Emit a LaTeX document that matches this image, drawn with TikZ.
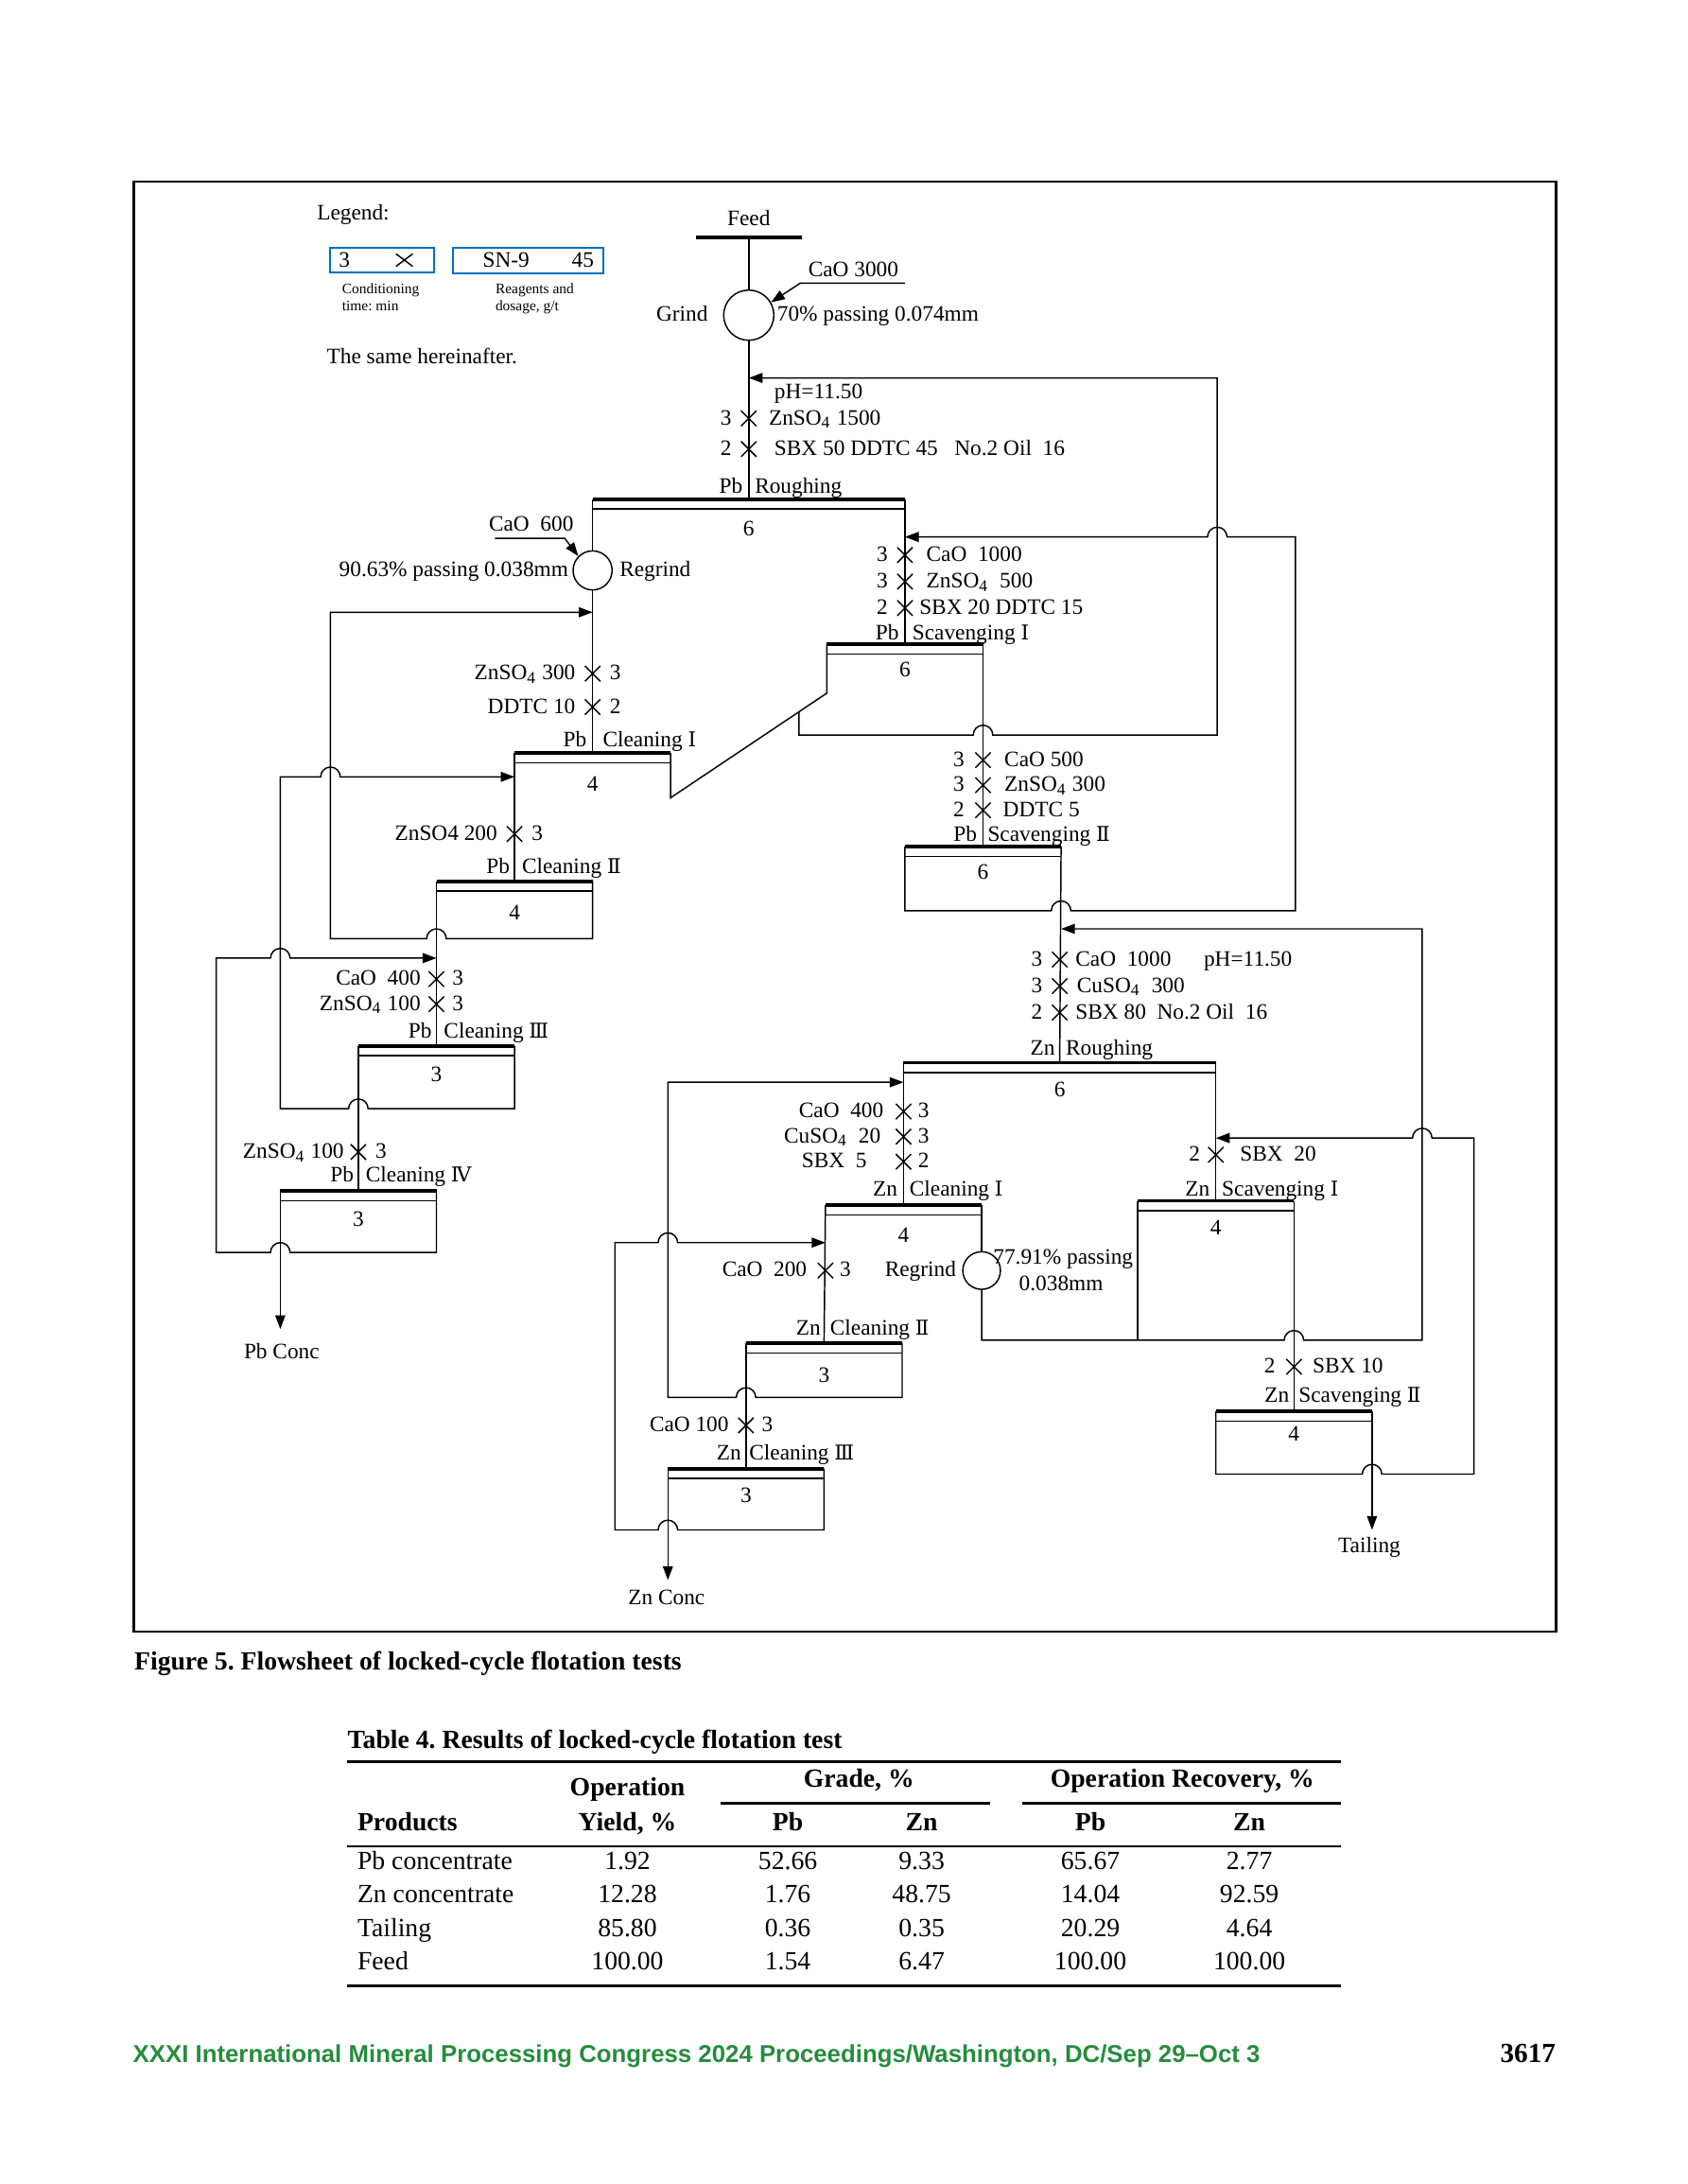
\documentclass[tikz,border=0pt]{standalone}
\usepackage{fontspec}
\setmainfont{Liberation Serif}
\newfontfamily\romf{DejaVu Serif}
\newfontfamily\footf{Liberation Sans}
\usetikzlibrary{arrows.meta,calc}
\definecolor{legblue}{RGB}{0,112,192}
\definecolor{footgreen}{RGB}{38,140,62}
\newdimen\uu \uu=0.5058pt
\frenchspacing
\newcommand\dfont{\fontsize{8}{9.6}\selectfont}
\newcommand\rn[1]{{\romf\fontsize{7.4}{8}\selectfont #1}}
\newcommand\sbs[1]{\textsubscript{#1}}
\newcommand\flcell[6]{%
  \coordinate (#1-l) at (#2,#4);
  \coordinate (#1-r) at (#3,#4);
  \coordinate (#1-c) at ({(#2+#3)/2},#4);
  \draw[barln] (#1-l) -- (#1-r);
  \draw[thinln] (#2,#4+7) -- (#3,#4+7);
  \node[txc] (#1-n) at ({(#2+#3)/2},#4+#6) {#5};
}
\tikzset{
  thinln/.style={line width=0.5pt},
  barln/.style={line width=1.3pt},
  arr/.style={thinln,-{Triangle[length=5pt,width=3.6pt]}},
  txt/.style={font=\dfont, inner sep=0pt},
  txl/.style={txt, anchor=mid west},
  txr/.style={txt, anchor=mid east},
  txc/.style={txt, anchor=mid},
  xmk/.pic={\draw[line width=0.5pt] (-5.5,-5.5) -- (5.5,5.5) (-5.5,5.5) -- (5.5,-5.5);},
  xmkleg/.pic={\draw[line width=0.5pt] (-6,-4.5) -- (6,4.5) (-6,4.5) -- (6,-4.5);},
  hd/.style={font=\fontsize{9.5}{11}\selectfont\bfseries, inner sep=0pt, anchor=mid},
  bd/.style={font=\fontsize{9.5}{11}\selectfont, inner sep=0pt, anchor=mid}
}
\begin{document}
\begin{tikzpicture}[x=\uu,y=-\uu]
\useasboundingbox (0,0) rectangle (1210,1566);
\draw[line width=0.8pt] (96,130) rectangle (1116,1170);

% ---------- legend
\node[txl] (legend) at (227,153) {Legend:};
\node[draw=legblue, line width=0.7pt, minimum width=74\uu, minimum height=17\uu, inner sep=0pt] (lb1) at (274,186.5) {};
\node[txc] (lb1t) at (247,187) {3};
\pic at (290,186.5) {xmkleg};
\node[draw=legblue, line width=0.7pt, minimum width=108\uu, minimum height=18\uu, inner sep=0pt] (lb2) at (379,187) {};
\node[txc] (lb2a) at (363,187) {SN-9};
\node[txc] (lb2b) at (418,187) {45};
\node[anchor=north west, align=left, font=\fontsize{5.3}{6.1}\selectfont, inner sep=0pt] (lb1d) at (245,203) {Conditioning\\time: min};
\node[anchor=north west, align=left, font=\fontsize{5.3}{6.1}\selectfont, inner sep=0pt] (lb2d) at (355,203) {Reagents and\\dosage, g/t};
\node[txl] (same) at (234,256) {The same hereinafter.};

% ---------- feed and grinding
\node[txc] (feed) at (537,157) {Feed};
\draw[barln] (499,170) -- (575,170);
\coordinate (feedb) at (537,170);
\node[circle, draw, thinln, minimum size=36\uu, inner sep=0pt] (grind) at (537,226) {};
\node[txr] (grindt) at (508,226) {Grind};
\node[txl] (grindp) at (557,226) {70\% passing 0.074mm};
\node[txc] (cao3000) at (612,194) {CaO 3000};
\draw[thinln] (feedb) -- (grind.north);
\draw[arr] (649,203) -- (574,203) -- (grind.30);

% ---------- cells
\flcell{pr}{425}{649}{358}{6}{22}
\flcell{sa}{593}{705}{462}{6}{19}
\flcell{sb}{649}{761}{607}{6}{19}
\flcell{ca}{369}{481}{540}{4}{23}
\flcell{cb}{313}{425}{632}{4}{23}
\flcell{cc}{257}{369}{750}{3}{21}
\flcell{cd}{201}{313}{854}{3}{21}
\flcell{zr}{648}{872}{762}{6}{20}
\flcell{za}{592}{704}{864}{4}{22}
\flcell{zb}{535}{647}{963}{3}{24}
\flcell{zc}{479}{591}{1053}{3}{20}
\flcell{xa}{816}{928}{861}{4}{20}
\flcell{xb}{872}{984}{1012}{4}{17}

\draw[thinln] (grind.south) -- (pr-c);

% ---------- Pb roughing reagents
\node[txl] (prph) at (555,281) {pH=11.50};
\pic at (537,300) {xmk};
\node[txr] (pr1a) at (525,300) {3};
\node[txl] (pr1b) at (551,300) {ZnSO\sbs{4} 1500};
\pic at (537,322) {xmk};
\node[txr] (pr2a) at (525,322) {2};
\node[txl] (pr2b) at (555,322) {SBX 50 DDTC 45~~~No.2 Oil~~16};
\node[txr] (prla) at (533,349) {Pb};
\node[txl] (prlb) at (541,349) {Roughing};

% ---------- Pb regrind
\node[circle, draw, thinln, minimum size=28\uu, inner sep=0pt] (rgp) at (425,409) {};
\draw[thinln] (pr-l) -- (rgp.north);
\draw[thinln] (rgp.south) -- (ca-c);
\node[txc] (cao600) at (381,376) {CaO~~600};
\draw[arr] (355,386) -- (405,386) -- (rgp.135);
\node[txr] (rgpa) at (408,409) {90.63\% passing 0.038mm};
\node[txl] (rgpb) at (444,409) {Regrind};

% ---------- Pb scavenging I
\pic at (649,398) {xmk};
\node[txr] (sa1a) at (637,398) {3};
\node[txl] (sa1b) at (664,398) {CaO~~1000};
\pic at (649,417) {xmk};
\node[txr] (sa2a) at (637,417) {3};
\node[txl] (sa2b) at (664,417) {ZnSO\sbs{4}~~500};
\pic at (649,436) {xmk};
\node[txr] (sa3a) at (637,436) {2};
\node[txl] (sa3b) at (659,436) {SBX 20 DDTC 15};
\node[txr] (sala) at (645,454) {Pb};
\node[txl] (salb) at (654,454) {Scavenging \rn{Ⅰ}};

% ---------- Pb scavenging II
\pic at (705,545) {xmk};
\node[txr] (sb1a) at (692,545) {3};
\node[txl] (sb1b) at (720,545) {CaO 500};
\pic at (705,563) {xmk};
\node[txr] (sb2a) at (692,563) {3};
\node[txl] (sb2b) at (720,563) {ZnSO\sbs{4} 300};
\pic at (705,581) {xmk};
\node[txr] (sb3a) at (692,581) {2};
\node[txl] (sb3b) at (719,581) {DDTC 5};
\node[txr] (sbla) at (701,599) {Pb};
\node[txl] (sblb) at (708,599) {Scavenging \rn{Ⅱ}};

% ---------- Pb cleaning I
\pic at (425,483) {xmk};
\node[txr] (ca1a) at (413,483) {ZnSO\sbs{4} 300};
\node[txl] (ca1b) at (437,483) {3};
\pic at (425,507) {xmk};
\node[txr] (ca2a) at (413,507) {DDTC 10};
\node[txl] (ca2b) at (437,507) {2};
\node[txr] (cala) at (421,531) {Pb};
\node[txl] (calb) at (432,531) {Cleaning \rn{Ⅰ}};

% ---------- Pb cleaning II
\pic at (369,598) {xmk};
\node[txr] (cb1a) at (357,598) {ZnSO4 200};
\node[txl] (cb1b) at (381,598) {3};
\node[txr] (cbla) at (366,622) {Pb};
\node[txl] (cblb) at (374,622) {Cleaning \rn{Ⅱ}};

% ---------- Pb cleaning III
\pic at (313,702) {xmk};
\node[txr] (cc1a) at (302,702) {CaO~~400};
\node[txl] (cc1b) at (324,702) {3};
\pic at (313,720) {xmk};
\node[txr] (cc2a) at (302,720) {ZnSO\sbs{4} 100};
\node[txl] (cc2b) at (324,720) {3};
\node[txr] (ccla) at (310,740) {Pb};
\node[txl] (cclb) at (318,740) {Cleaning \rn{Ⅲ}};

% ---------- Pb cleaning IV
\pic at (257,826) {xmk};
\node[txr] (cd1a) at (247,826) {ZnSO\sbs{4} 100};
\node[txl] (cd1b) at (269,826) {3};
\node[txr] (cdla) at (254,843) {Pb};
\node[txl] (cdlb) at (262,843) {Cleaning \rn{Ⅳ}};

% ---------- Zn roughing
\pic at (760,688) {xmk};
\node[txr] (zr1a) at (748,688) {3};
\node[txl] (zr1b) at (771,688) {CaO~~1000};
\node[txl] (zrph) at (863,688) {pH=11.50};
\pic at (760,707) {xmk};
\node[txr] (zr2a) at (748,707) {3};
\node[txl] (zr2b) at (772,707) {CuSO\sbs{4}~~300};
\pic at (760,726) {xmk};
\node[txr] (zr3a) at (748,726) {2};
\node[txl] (zr3b) at (771,726) {SBX 80~~No.2 Oil~~16};
\node[txr] (zrla) at (757,752) {Zn};
\node[txl] (zrlb) at (764,752) {Roughing};

% ---------- Zn cleaning I
\pic at (648,797) {xmk};
\node[txr] (za1a) at (634,797) {CaO~~400};
\node[txl] (za1b) at (658,797) {3};
\pic at (648,815) {xmk};
\node[txr] (za2a) at (632,815) {CuSO\sbs{4}~~20};
\node[txl] (za2b) at (658,815) {3};
\pic at (648,833) {xmk};
\node[txr] (za3a) at (622,833) {SBX~~5};
\node[txl] (za3b) at (658,833) {2};
\node[txr] (zala) at (644,853) {Zn};
\node[txl] (zalb) at (652,853) {Cleaning \rn{Ⅰ}};

% ---------- Zn regrind
\node[circle, draw, thinln, minimum size=27\uu, inner sep=0pt] (rgz) at (704,911) {};
\draw[thinln] (za-r) -- (rgz.north);
\node[txr] (rgza) at (686,911) {Regrind};
\node[txl] (rgzb) at (712,902) {77.91\% passing};
\node[txc] (rgzc) at (761,921) {0.038mm};

% ---------- Zn cleaning II
\pic at (592,911) {xmk};
\node[txr] (zb1a) at (579,911) {CaO~~200};
\node[txl] (zb1b) at (602,911) {3};
\node[txr] (zbla) at (589,953) {Zn};
\node[txl] (zblb) at (595,953) {Cleaning \rn{Ⅱ}};

% ---------- Zn cleaning III
\pic at (535,1022) {xmk};
\node[txr] (zc1a) at (523,1022) {CaO 100};
\node[txl] (zc1b) at (546,1022) {3};
\node[txr] (zcla) at (532,1042) {Zn};
\node[txl] (zclb) at (537,1042) {Cleaning \rn{Ⅲ}};

% ---------- Zn scavenging I
\pic at (872,828) {xmk};
\node[txr] (xa1a) at (861,828) {2};
\node[txl] (xa1b) at (889,828) {SBX~~20};
\node[txr] (xala) at (868,853) {Zn};
\node[txl] (xalb) at (876,853) {Scavenging \rn{Ⅰ}};

% ---------- Zn scavenging II
\pic at (928,980) {xmk};
\node[txr] (xb1a) at (915,980) {2};
\node[txl] (xb1b) at (941,980) {SBX 10};
\node[txr] (xbla) at (925,1001) {Zn};
\node[txl] (xblb) at (931,1001) {Scavenging \rn{Ⅱ}};

% ---------- main flow lines
\draw[thinln] (pr-r) -- (sa-c);
\draw[thinln] (sa-r) -- (sb-c);
\draw[thinln] (sb-r) -- (zr-c);
\draw[thinln] (zr-l) -- (za-c);
\draw[thinln] (zr-r) -- (xa-c);
\draw[thinln] (za-l) -- (zb-c);
\draw[thinln] (zb-l) -- (zc-c);
\draw[thinln] (xa-r) -- (xb-c);
\draw[thinln] (ca-l) -- (cb-c);
\draw[thinln] (cb-l) -- (cc-c);
\draw[thinln] (cc-l) -- (cd-c);

% ---------- products
\node[txc] (pbconc) at (202,970) {Pb Conc};
\coordinate (pbend) at (201,953);
\draw[arr] (cd-l) -- (pbend);
\node[txc] (znconc) at (478,1146) {Zn Conc};
\coordinate (znend) at (479,1133);
\draw[arr] (zc-l) -- (znend);
\node[txc] (tail) at (982,1109) {Tailing};
\coordinate (tlend) at (984,1097);
\draw[arr] (xb-r) -- (tlend);

% ---------- recycle streams
% Pb cleaning I tailing + Pb scavenging I froth -> Pb roughing
\draw[thinln] (ca-r) -- (481,572) coordinate (d1) -- (593,497) coordinate (d2) -- (sa-l);
\coordinate (j1) at ($(d1)!0.8214!(d2)$);
\draw[arr] (j1) -- (573,527) -- (698,527) arc[start angle=180,end angle=360,radius=7] -- (873,527) -- (873,271) -- (537,271);
% Pb scavenging II froth -> Pb scavenging I
\draw[arr] (sb-l) -- (649,653) -- (754,653) arc[start angle=180,end angle=360,radius=7] -- (929,653) -- (929,385) -- (880,385) arc[start angle=0,end angle=-180,radius=7] -- (649,385);
% Zn cleaning I tailing + Zn scavenging I froth -> Zn roughing
\draw[arr] (rgz.south) -- (704,961) -- (921,961) arc[start angle=180,end angle=360,radius=7] -- (1020,961) -- (1020,666) -- (761,666);
\draw[thinln] (xa-l) -- (816,961);
% Zn scavenging II froth -> Zn scavenging I
\draw[arr] (xb-l) -- (872,1057) -- (977,1057) arc[start angle=180,end angle=360,radius=7] -- (1057,1057) -- (1057,816) -- (1027,816) arc[start angle=0,end angle=-180,radius=7] -- (872,816);
% Zn cleaning II tailing -> Zn cleaning I
\draw[arr] (zb-r) -- (647,1002) -- (542,1002) arc[start angle=0,end angle=-180,radius=7] -- (479,1002) -- (479,776) -- (648,776);
% Zn cleaning III tailing -> Zn cleaning II
\draw[arr] (zc-r) -- (591,1097) -- (486,1097) arc[start angle=0,end angle=-180,radius=7] -- (441,1097) -- (441,891) -- (472,891) arc[start angle=180,end angle=360,radius=7] -- (592,891);
% Pb cleaning II tailing -> Pb cleaning I
\draw[arr] (cb-r) -- (425,673) -- (320,673) arc[start angle=0,end angle=-180,radius=7] -- (237,673) -- (237,439) -- (425,439);
% Pb cleaning III tailing -> Pb cleaning II
\draw[arr] (cc-r) -- (369,795) -- (264,795) arc[start angle=0,end angle=-180,radius=7] -- (201,795) -- (201,557) -- (230,557) arc[start angle=180,end angle=360,radius=7] -- (369,557);
% Pb cleaning IV tailing -> Pb cleaning III
\draw[arr] (cd-r) -- (313,898) -- (208,898) arc[start angle=0,end angle=-180,radius=7] -- (155,898) -- (155,687) -- (194,687) arc[start angle=180,end angle=360,radius=7] -- (313,687);

% ---------- caption
\node[hd, anchor=mid west] (cap) at (96,1193) {Figure 5. Flowsheet of locked-cycle flotation tests};

% ---------- table
\node[hd, anchor=mid west] (ttl) at (249,1249) {Table 4. Results of locked-cycle flotation test};
\draw[line width=1pt] (249,1263) -- (962,1263);
\draw[line width=0.8pt] (517,1293) -- (710,1293);
\draw[line width=0.8pt] (733,1293) -- (962,1293);
\draw[line width=0.8pt] (249,1324) -- (962,1324);
\draw[line width=1pt] (249,1424) -- (962,1424);
\node[hd] (h1) at (450,1283) {Operation};
\node[hd] (h2) at (450,1308) {Yield, \%};
\node[hd] (h3) at (616,1277) {Grade, \%};
\node[hd] (h4) at (848,1277) {Operation Recovery, \%};
\node[hd, anchor=mid west] (h5) at (256,1308) {Products};
\node[hd] (h6) at (565,1308) {Pb};
\node[hd] (h7) at (661,1308) {Zn};
\node[hd] (h8) at (782,1308) {Pb};
\node[hd] (h9) at (896,1308) {Zn};
\foreach \nm/\yy/\a/\b/\c/\d/\e/\f in {
  ra/1336/Pb concentrate/1.92/52.66/9.33/65.67/2.77,
  rb/1360/Zn concentrate/12.28/1.76/48.75/14.04/92.59,
  rc/1384/Tailing/85.80/0.36/0.35/20.29/4.64,
  rd/1408/Feed/100.00/1.54/6.47/100.00/100.00}{
  \node[bd, anchor=mid west] (\nm0) at (256,\yy) {\a};
  \node[bd] (\nm1) at (450,\yy) {\b};
  \node[bd] (\nm2) at (565,\yy) {\c};
  \node[bd] (\nm3) at (661,\yy) {\d};
  \node[bd] (\nm4) at (782,\yy) {\e};
  \node[bd] (\nm5) at (896,\yy) {\f};
}

% ---------- footer
\node[anchor=mid west, inner sep=0pt, text=footgreen, font=\footf\bfseries\fontsize{8.85}{10}\selectfont] (foot) at (95,1474) {XXXI International Mineral Processing Congress 2024 Proceedings/Washington, DC/Sep 29–Oct 3};
\node[anchor=mid east, inner sep=0pt, font=\fontsize{10}{12}\selectfont\bfseries] (pg) at (1116,1474) {3617};
\end{tikzpicture}
\end{document}
